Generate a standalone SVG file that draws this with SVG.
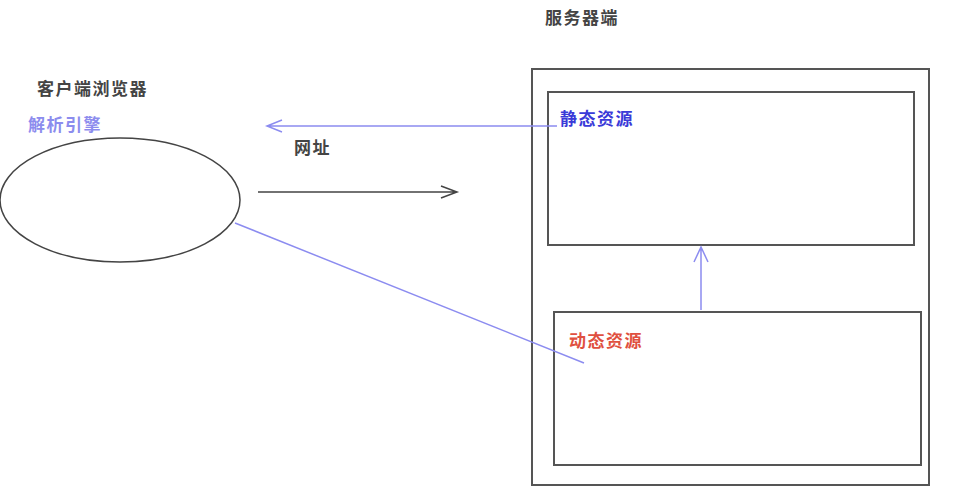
<svg xmlns="http://www.w3.org/2000/svg" width="956" height="495" viewBox="0 0 956 495">
<style>
.t{font-family:"Noto Sans CJK SC","Liberation Sans",sans-serif;font-size:17px;font-weight:bold;letter-spacing:1.5px;}
.box{fill:none;stroke:#555;stroke-width:2;}
.blue{stroke:#8c8cf0;stroke-width:1.5;fill:none;}
.blk{stroke:#444;stroke-width:1.5;fill:none;}
</style>
<rect width="956" height="495" fill="#fff"/>
<g id="server">
<rect class="box" x="532" y="69" width="397" height="416"/>
<text class="t" x="545" y="24" fill="#444">服务器端</text>
</g>
<g id="static">
<rect class="box" x="548" y="92" width="366" height="153"/>
<text class="t" x="560" y="125" fill="#3a3ad8">静态资源</text>
</g>
<g id="dynamic">
<rect class="box" x="554" y="312" width="367" height="153"/>
<text class="t" x="569" y="347" fill="#e05040">动态资源</text>
</g>
<g id="browser">
<text class="t" x="37" y="95" fill="#444">客户端浏览器</text>
<text class="t" x="28" y="131" fill="#8c8cee">解析引擎</text>
<ellipse cx="120" cy="200" rx="120" ry="62" fill="none" stroke="#444" stroke-width="1.5"/>
</g>
<g id="connectors">
<path class="blue" d="M557 126 H267 M282 120 L267 126 L282 132"/>
<text class="t" x="294" y="154" fill="#444">网址</text>
<path class="blk" d="M258 192 H457 M441 186 L457 192 L441 198"/>
<path class="blue" d="M235 223 L584 363"/>
<path class="blue" d="M701 310 V247 M694 262 L701 247 L708 262"/>
</g>
</svg>
